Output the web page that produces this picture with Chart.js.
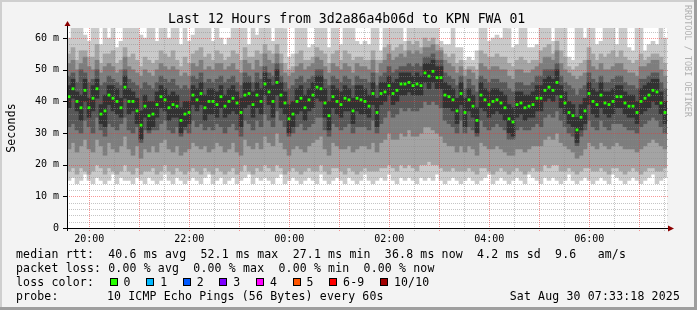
<!DOCTYPE html>
<html>
<head>
<meta charset="utf-8">
<script src="https://cdn.jsdelivr.net/npm/chart.js@4.4.1/dist/chart.umd.min.js"></script>
<style>
  html, body { margin: 0; padding: 0; background: #f3f3f3; }
  #wrap { position: relative; width: 697px; height: 310px; background: #f3f3f3; overflow: hidden;
          font-family: "DejaVu Sans Mono", monospace; color: #000; }
  #wrap canvas { position: absolute; left: 0; top: 0; }
  .frame { position: absolute; pointer-events: none; }
  .txt { position: absolute; white-space: pre; font-size: 11.5px; letter-spacing: 0.17px; line-height: 14px; }
  .box { display: inline-block; width: 6px; height: 6px; border: 1px solid #000; margin: 0 6px 0 15.5px; }
</style>
</head>
<body>
<div id="wrap">
  <canvas id="chart" width="697" height="310"></canvas>
  <div class="frame" style="left:0;top:0;width:697px;height:2px;background:#cfcfcf"></div>
  <div class="frame" style="left:0;top:0;width:2px;height:310px;background:#cfcfcf"></div>
  <div class="frame" style="right:0;top:0;width:3px;height:310px;background:#9e9e9e"></div>
  <div class="frame" style="left:0;bottom:0;width:697px;height:3px;background:#9e9e9e"></div>

  <div class="txt" style="left:168px;top:11px;font-size:13.2px;letter-spacing:0;line-height:16px">Last 12 Hours from 3d2a86a4b06d to KPN FWA 01</div>
  <div class="txt" style="left:-19px;top:121px;width:60px;text-align:center;transform:rotate(-90deg)">Seconds</div>
  <div class="txt" style="left:628px;top:56px;width:120px;text-align:center;font-size:8.3px;letter-spacing:0.1px;line-height:10px;color:#b0b0b0;transform:rotate(90deg)">RRDTOOL / TOBI OETIKER</div>

  <div class="txt" style="left:16px;top:247px">median rtt:  40.6 ms avg  52.1 ms max  27.1 ms min  36.8 ms now  4.2 ms sd  9.6   am/s</div>
  <div class="txt" style="left:16px;top:261px">packet loss: 0.00 % avg  0.00 % max  0.00 % min  0.00 % now</div>
  <div class="txt" id="lossLegend" style="left:16px;top:275px">loss color:</div>
  <div class="txt" style="left:16px;top:289px">probe:</div>
  <div class="txt" style="left:107px;top:289px">10 ICMP Echo Pings (56 Bytes) every 60s</div>
  <div class="txt" style="right:17px;top:289px">Sat Aug 30 07:33:18 2025</div>
</div>

<script>
// median rtt per 4.8 min column (ms), 19:33 -> 07:33
const median = [
  41.5, 44.0, 40.0, 38.0, 43.5, 38.0, 41.0, 44.0, 36.0, 37.0,
  42.0, 41.0, 40.0, 38.0, 44.5, 40.0, 40.0, 37.0, 32.5, 38.5,
  35.5, 36.0, 39.0, 41.5, 40.5, 38.0, 39.0, 38.5, 34.0, 36.0,
  36.5, 42.0, 40.5, 42.5, 38.0, 40.0, 40.0, 39.0, 41.5, 38.5,
  40.0, 41.0, 39.5, 36.5, 42.0, 42.5, 39.0, 42.0, 40.0, 45.5,
  43.0, 40.0, 46.0, 42.0, 39.5, 34.5, 36.0, 40.0, 41.0, 38.0,
  40.5, 42.0, 44.5, 44.0, 39.5, 35.5, 41.5, 40.0, 39.0, 41.0,
  40.5, 37.0, 41.0, 40.5, 40.0, 38.5, 42.5, 36.5, 42.5, 43.0,
  45.0, 42.5, 43.5, 45.5, 45.5, 46.0, 45.0, 45.5, 45.0, 49.0,
  48.0, 49.5, 47.5, 47.5, 42.0, 41.5, 40.5, 37.0, 42.5, 36.5,
  40.5, 38.5, 34.0, 42.0, 40.5, 39.0, 40.0, 40.5, 39.5, 38.0,
  34.5, 33.5, 39.0, 39.5, 38.0, 38.5, 39.0, 41.0, 41.0, 43.5,
  44.5, 43.5, 46.0, 41.5, 39.5, 36.5, 35.5, 31.0, 35.0, 37.0,
  42.5, 40.0, 39.0, 42.0, 39.5, 39.0, 40.0, 41.5, 41.5, 39.5,
  38.5, 38.5, 36.5, 40.0, 41.0, 42.0, 43.5, 43.0, 39.5, 36.5
];

// sorted ping rtts (ms) per column, rtt1 = fastest ... rtt10 = slowest
const rtt1 = [
  15,16,14,15,17,15,14,16,15,14, 15,17,14,16,15,15,14,16,15,14,
  16,15,14,15,17,15,14,16,15,14, 15,16,15,14,16,17,14,15,16,14,
  15,16,14,15,16,17,14,16,15,16, 15,14,16,17,14,15,16,15,14,15,
  16,15,14,17,15,14,15,16,15,14, 16,15,14,15,17,15,14,15,16,15,
  17,15,14,16,15,16,15,14,16,15, 16,15,17,15,14,15,16,15,14,15,
  16,15,14,15,16,17,14,15,16,15, 14,15,16,15,14,17,16,15,14,16,
  15,16,15,14,15,17,15,14,15,16, 15,14,15,16,15,14,17,16,15,14,
  15,16,15,14,15,16,17,14,15,16
];
const rtt2 = [
  18,19,17,19,18,17,18,20,19,17, 19,18,17,18,20,18,17,19,17,18,
  18,19,17,18,20,18,17,19,18,17, 18,19,18,17,19,18,17,19,18,17,
  18,19,17,18,20,18,17,19,18,20, 19,18,20,19,17,18,19,18,17,18,
  19,18,18,20,18,17,19,19,18,17, 19,18,17,18,19,18,18,18,19,19,
  20,19,18,20,19,20,19,18,20,20, 21,20,20,19,18,18,19,18,18,18,
  19,18,17,19,19,18,17,18,19,18, 17,18,19,18,17,18,19,18,18,20,
  19,20,20,18,18,19,18,17,18,19, 19,18,18,19,18,17,19,19,18,17,
  18,19,18,17,18,19,19,18,18,19
];
const rtt3 = [
  25,27,24,26,28,25,24,28,26,23, 27,25,24,26,29,25,23,26,22,25,
  24,26,24,27,28,25,24,26,23,24, 25,27,26,25,26,24,25,27,26,24,
  25,27,24,23,28,26,25,27,25,29, 27,26,30,27,25,23,25,26,25,24,
  26,27,28,29,25,23,27,26,25,25, 26,24,25,26,26,25,27,24,27,28,
  30,28,28,30,29,31,29,29,30,32, 32,31,30,29,27,26,26,24,26,24,
  26,25,23,27,26,25,25,26,25,24, 23,23,25,25,24,25,26,26,26,28,
  29,28,30,27,26,25,24,22,23,25, 27,26,25,27,26,25,26,27,26,25,
  25,25,24,25,26,27,28,27,26,25
];
const rtt4 = [
  32,33,31,30,34,32,30,35,31,29, 33,32,31,33,35,31,30,32,27,31,
  30,31,31,33,34,31,30,32,29,31, 30,34,32,33,31,32,31,33,32,30,
  32,33,31,29,34,33,31,34,32,36, 34,32,37,34,32,29,30,32,33,31,
  32,33,35,35,31,29,33,32,31,32, 33,30,32,32,32,31,34,30,33,35,
  37,35,36,38,37,38,37,37,38,40, 39,40,39,38,34,33,32,30,34,30,
  32,31,29,34,32,31,32,33,32,31, 28,28,31,32,31,31,32,33,32,35,
  36,35,37,34,32,30,29,26,29,31, 34,32,31,34,32,31,33,33,33,32,
  31,31,30,32,33,34,35,34,32,30
];
const rtt5 = [
  38,41,37,34,40,35,37,41,33,32, 39,37,36,35,41,36,37,33,28,35,
  31,32,35,38,37,34,35,35,30,32, 33,39,37,39,34,36,36,35,38,35,
  36,37,36,32,38,39,35,38,36,42, 39,35,42,38,36,30,32,36,37,34,
  37,38,41,40,35,31,38,36,35,37, 37,33,37,36,36,35,39,32,39,40,
  42,39,40,42,42,43,42,42,42,46, 44,46,44,44,38,38,37,33,39,32,
  37,35,30,38,37,35,36,37,36,34, 30,29,35,36,34,35,35,37,37,40,
  41,40,42,38,36,33,32,27,31,33, 39,36,35,38,36,35,36,38,38,36,
  35,35,33,36,37,38,40,39,36,33
];
const rtt6 = [
  45,47,43,42,47,41,45,47,39,42, 45,45,44,41,48,44,43,41,37,42,
  40,40,43,45,44,42,43,42,38,40, 40,45,44,46,42,44,44,43,45,42,
  44,45,43,41,46,46,43,46,44,49, 47,45,50,46,43,39,40,44,45,42,
  44,46,48,48,44,40,45,44,43,45, 44,41,45,45,44,42,46,41,46,46,
  48,46,47,49,49,49,48,49,48,52, 52,53,51,51,46,45,44,41,46,41,
  44,42,38,46,44,43,44,44,43,42, 39,38,43,43,42,42,43,45,45,47,
  48,47,50,45,43,40,39,35,39,41, 46,44,43,46,43,43,44,45,45,43,
  42,42,40,44,45,46,47,47,43,40
];
const rtt7 = [
  48,49,46,50,49,46,47,50,45,46, 48,47,46,45,50,47,46,45,44,46,
  45,44,46,48,47,46,47,45,44,45, 44,48,47,49,46,47,46,47,48,46,
  47,48,46,45,49,48,46,49,47,51, 49,48,52,48,46,44,45,47,48,46,
  47,48,50,50,47,45,48,47,46,48, 47,45,48,47,47,46,49,45,48,49,
  51,49,50,51,51,52,51,52,51,54, 54,55,53,53,49,48,47,45,48,44,
  47,45,43,48,47,46,47,47,46,46, 44,43,46,46,45,45,46,48,48,50,
  50,50,52,48,46,45,44,42,44,45, 49,47,46,48,46,46,47,48,48,46,
  45,45,44,47,47,48,49,49,46,44
];
const rtt8 = [
  52,53,50,52,54,51,50,53,49,51, 52,51,49,50,54,51,50,49,48,50,
  49,48,50,52,51,50,51,50,48,49, 48,52,51,53,50,51,50,52,52,50,
  51,52,50,49,53,52,50,53,51,55, 53,52,55,52,49,48,49,51,52,50,
  51,52,54,53,51,49,52,51,50,52, 51,49,52,51,51,50,53,49,52,53,
  55,53,54,55,54,56,55,56,55,57, 57,58,56,56,53,52,51,49,51,48,
  50,49,47,52,51,50,51,51,50,50, 48,47,50,50,49,49,50,51,52,54,
  54,53,56,52,50,49,48,47,48,49, 53,51,50,52,50,50,51,52,52,50,
  49,49,48,51,51,52,53,53,50,48
];
const rtt9 = [
  55,57,53,56,56,54,54,58,52,55, 55,56,52,53,57,54,55,53,51,54,
  53,52,53,56,55,54,56,53,51,54, 52,55,56,57,54,55,53,56,55,53,
  54,56,55,53,57,54,54,56,55,58, 56,55,58,55,52,50,51,55,56,53,
  53,54,57,56,55,52,55,56,53,56, 55,53,54,54,53,53,56,53,53,57,
  58,56,57,58,56,59,58,59,57,60, 59,60,58,57,55,54,55,52,53,50,
  51,51,50,56,55,54,54,55,54,54, 52,51,53,54,53,52,53,53,56,57,
  58,55,59,56,54,51,50,51,52,53, 57,55,53,55,54,55,56,54,56,54,
  53,52,53,55,53,54,55,55,54,52
];
const rtt10 = [
  60,66,64,68,61,59,67,70,58,65, 60,69,57,59,67,66,70,64,61,60,
  65,67,59,68,66,60,70,64,58,66, 59,61,68,70,65,67,59,66,60,58,
  60,67,69,64,68,58,65,61,66,70, 67,59,71,65,63,54,55,66,68,64,
  57,58,68,66,67,57,65,69,58,66, 67,64,59,58,59,58,67,65,56,69,
  70,66,68,71,59,72,69,70,67,73, 70,72,68,59,58,58,66,57,57,53,
  54,53,56,67,66,59,60,61,60,65, 63,57,58,66,64,57,57,58,68,69,
  70,59,72,67,65,54,53,64,65,60, 68,66,58,59,67,69,66,58,68,65,
  57,56,64,66,56,58,59,58,66,60
];

const xTickHours = [20, 22, 24, 26, 28, 30];
const xTickLabels = ['20:00', '22:00', '00:00', '02:00', '04:00', '06:00'];
const yTickValues = [0, 10, 20, 30, 40, 50, 60];
const yTickLabels = ['0', '10 m', '20 m', '30 m', '40 m', '50 m', '60 m'];

const lossLabels = ['0', '1', '2', '3', '4', '5', '6-9', '10/10'];
const lossColors = ['#26ff00', '#00b8ff', '#0059ff', '#7e00ff', '#ff00ff', '#ff5500', '#ff0000', '#a10000'];

const startHour = 19 + 33 / 60 + 18 / 3600;   // 19:33:18
const endHour = startHour + 12;
const colHours = 12 / median.length;
const times = median.map((_, i) => startHour + (i + 0.5) * colHours);

// smoke: outer pair lightest, inner pair darkest
const smoke = [
    { lo: rtt1, hi: rtt10, color: '#cacaca' },
    { lo: rtt2, hi: rtt9, color: '#a4a4a4' },
    { lo: rtt3, hi: rtt8, color: '#7e7e7e' },
    { lo: rtt4, hi: rtt7, color: '#585858' },
    { lo: rtt5, hi: rtt6, color: '#323232' }
];

const legendEl = document.getElementById('lossLegend');
lossLabels.forEach((label, i) => {
    const box = document.createElement('span');
    box.className = 'box';
    box.style.background = lossColors[i];
    legendEl.appendChild(box);
    legendEl.appendChild(document.createTextNode(label));
});

const MINOR = 'rgba(140,140,140,0.5)';
const MAJOR = 'rgba(240,48,48,0.5)';

const plotBg = {
    id: 'plotBg',
    beforeDraw(chart) {
        const { ctx, chartArea: a } = chart;
        ctx.save();
        ctx.fillStyle = '#fff';
        ctx.fillRect(a.left, a.top, a.right - a.left, a.bottom - a.top);
        ctx.restore();
    }
};

// dotted rrd style grid, drawn over the smoke but under the median
const rrdGrid = {
    id: 'rrdGrid',
    beforeDatasetDraw(chart, args) {
        if (args.meta.type !== 'line') return;
        const { ctx, chartArea: a, scales: { x, y } } = chart;
        ctx.save();
        ctx.lineWidth = 1;
        ctx.setLineDash([1, 1]);
        const hline = (v, c) => {
            const py = Math.round(y.getPixelForValue(v)) + 0.5;
            ctx.strokeStyle = c;
            ctx.beginPath(); ctx.moveTo(a.left, py); ctx.lineTo(a.right + 1, py); ctx.stroke();
        };
        const vline = (v, c) => {
            const px = Math.round(x.getPixelForValue(v)) + 0.5;
            ctx.strokeStyle = c;
            ctx.beginPath(); ctx.moveTo(px, a.top); ctx.lineTo(px, a.bottom + 3); ctx.stroke();
        };
        for (let v = 2; v < y.max; v += 2) if (v % 10) hline(v, MINOR);
        for (let h = Math.ceil(x.min * 2) / 2; h <= x.max; h += 0.5) if (h % 1) vline(h, MINOR);
        for (let v = 10; v < y.max; v += 10) hline(v, MAJOR);
        for (let h = Math.ceil(x.min); h <= x.max; h++) vline(h, MAJOR);
        ctx.restore();
    }
};

const rrdAxes = {
    id: 'rrdAxes',
    afterDraw(chart) {
        const { ctx, chartArea: a, scales: { y } } = chart;
        const ax = a.left + 0.5, ay = a.bottom + 0.5;
        ctx.save();
        ctx.strokeStyle = '#000';
        ctx.lineWidth = 1;
        ctx.beginPath();
        ctx.moveTo(a.left - 4, ay); ctx.lineTo(a.right + 2, ay);
        ctx.moveTo(ax, a.bottom + 3); ctx.lineTo(ax, a.top - 2);
        yTickValues.forEach(v => {
            const py = Math.round(y.getPixelForValue(v)) + 0.5;
            ctx.moveTo(a.left - 4, py); ctx.lineTo(a.left, py);
        });
        ctx.stroke();
        ctx.fillStyle = '#8b0000';
        ctx.beginPath();
        ctx.moveTo(a.right + 1, ay - 3); ctx.lineTo(a.right + 7, ay); ctx.lineTo(a.right + 1, ay + 3);
        ctx.fill();
        ctx.beginPath();
        ctx.moveTo(ax - 3, a.top - 2); ctx.lineTo(ax, a.top - 7); ctx.lineTo(ax + 3, a.top - 2);
        ctx.fill();
        ctx.restore();
    }
};

const tickFont = { family: 'DejaVu Sans Mono', size: 10 };

const datasets = smoke.map((band, k) => ({
    type: 'bar',
    data: times.map((t, i) => ({ x: t, y: [band.lo[i], band.hi[i]] })),
    backgroundColor: band.color,
    borderWidth: 0,
    grouped: false,
    barPercentage: 1,
    categoryPercentage: 1,
    order: 10 - k
}));

datasets.push({
    type: 'line',
    data: times.map((t, i) => ({ x: t, y: median[i] })),
    showLine: false,
    pointStyle: 'rect',
    pointRadius: 2,
    pointBackgroundColor: lossColors[0],
    pointBorderWidth: 0,
    order: 0
});

new Chart(document.getElementById('chart'), {
    type: 'bar',
    data: { datasets },
    options: {
        responsive: false,
        animation: false,
        devicePixelRatio: 1,
        layout: { padding: { top: 28, right: 30, bottom: 62, left: 0 } },
        plugins: { legend: { display: false }, tooltip: { enabled: false }, title: { display: false } },
        scales: {
            x: {
                type: 'linear',
                min: startHour,
                max: endHour,
                offset: false,
                grid: { display: false, drawTicks: false },
                border: { display: false },
                ticks: {
                    font: tickFont, color: '#000', padding: 5, maxRotation: 0, autoSkip: false,
                    callback: v => xTickLabels[xTickHours.indexOf(v)]
                },
                afterBuildTicks: s => { s.ticks = xTickHours.map(v => ({ value: v })); },
                afterFit: s => { s.height = 20; }
            },
            y: {
                min: 0,
                max: 63.2,
                grid: { display: false, drawTicks: false },
                border: { display: false },
                ticks: {
                    font: tickFont, color: '#000', padding: 8,
                    callback: v => yTickLabels[yTickValues.indexOf(v)]
                },
                afterBuildTicks: s => { s.ticks = yTickValues.map(v => ({ value: v })); },
                afterFit: s => { s.width = 67; }
            }
        }
    },
    plugins: [plotBg, rrdGrid, rrdAxes]
});
</script>
</body>
</html>
